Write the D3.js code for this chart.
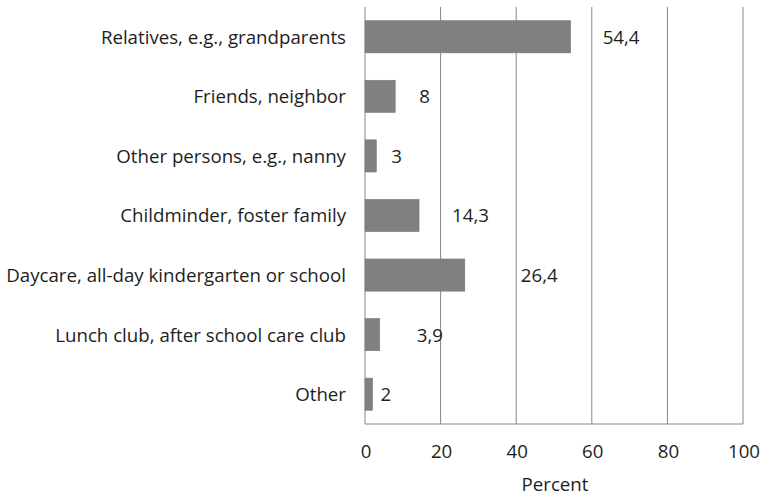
<!DOCTYPE html>
<html>
<head>
<meta charset="utf-8">
<script src="https://cdn.jsdelivr.net/npm/d3@7"></script>
<style>
  body { margin: 0; background: #fff; }
  text { font-family: "Open Sans", sans-serif; fill: #1e1e1e; }
</style>
</head>
<body>
<div id="chart"></div>
<script>
// data
var categories = [
  "Relatives, e.g., grandparents",
  "Friends, neighbor",
  "Other persons, e.g., nanny",
  "Childminder, foster family",
  "Daycare, all-day kindergarten or school",
  "Lunch club, after school care club",
  "Other"
];
var values = [54.4, 8, 3, 14.3, 26.4, 3.9, 2];
var valueLabels = ["54,4", "8", "3", "14,3", "26,4", "3,9", "2"];
var xTicks = [0, 20, 40, 60, 80, 100];
var xTitle = "Percent";

// label gap after bar end (px), as placed in the original
var labelDx = [32, 24, 15, 33, 56, 37, 8];

w = 763;
h = 495;
var margin = {top: 7, right: 20, bottom: 71, left: 365};

var svg = d3.select("#chart")
  .append("svg")
  .attr("width", w)
  .attr("height", h);

var x = d3.scaleLinear()
  .domain([0, 100])
  .range([margin.left, 743]);

var y = d3.scaleBand()
  .domain(categories)
  .range([margin.top, 424])
  .paddingInner(0.46)
  .paddingOuter(0.23);

// gridlines
svg.selectAll("line.grid")
  .data(xTicks.slice(1))
  .enter().append("line")
  .attr("class", "grid")
  .attr("x1", function(d) { return x(d); })
  .attr("x2", function(d) { return x(d); })
  .attr("y1", margin.top)
  .attr("y2", 424)
  .attr("stroke", "#868686")
  .attr("stroke-width", 1);

// bars
svg.selectAll("rect")
  .data(values)
  .enter().append("rect")
  .attr("x", x(0))
  .attr("y", function(d, i) { return y(categories[i]); })
  .attr("width", function(d) { return x(d) - x(0); })
  .attr("height", y.bandwidth())
  .attr("fill", "#808080")
  .attr("stroke", "#7a7a7a")
  .attr("stroke-width", 0.6);

// axis lines
svg.append("line")
  .attr("x1", x(0)).attr("x2", x(0))
  .attr("y1", margin.top).attr("y2", 424)
  .attr("stroke", "#868686");
svg.append("line")
  .attr("x1", x(0)).attr("x2", x(100))
  .attr("y1", 424).attr("y2", 424)
  .attr("stroke", "#868686");

// category labels
svg.selectAll("text.cat")
  .data(categories)
  .enter().append("text")
  .attr("class", "cat")
  .attr("x", 346)
  .attr("y", function(d) { return y(d) + y.bandwidth() / 2; })
  .attr("dy", "0.37em")
  .attr("text-anchor", "end")
  .attr("font-size", "18.7px")
  .text(function(d) { return d; });

// value labels
svg.selectAll("text.val")
  .data(values)
  .enter().append("text")
  .attr("class", "val")
  .attr("x", function(d, i) { return x(d) + labelDx[i]; })
  .attr("y", function(d, i) { return y(categories[i]) + y.bandwidth() / 2; })
  .attr("dy", "0.37em")
  .attr("font-size", "18.7px")
  .text(function(d, i) { return valueLabels[i]; });

// x tick labels
svg.selectAll("text.tick")
  .data(xTicks)
  .enter().append("text")
  .attr("class", "tick")
  .attr("x", function(d) { return x(d) + 1; })
  .attr("y", 458)
  .attr("text-anchor", "middle")
  .attr("font-size", "18.7px")
  .text(function(d) { return d; });

svg.append("text")
  .attr("x", 555)
  .attr("y", 491)
  .attr("text-anchor", "middle")
  .attr("font-size", "18.7px")
  .text(xTitle);
</script>
</body>
</html>
